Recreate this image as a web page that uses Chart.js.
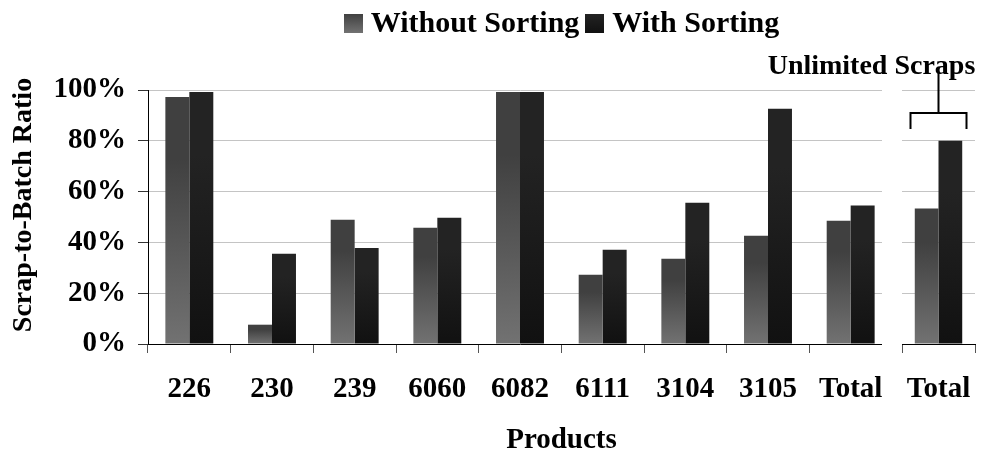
<!DOCTYPE html>
<html>
<head>
<meta charset="utf-8">
<script src="https://cdn.jsdelivr.net/npm/chart.js@4/dist/chart.umd.min.js"></script>
<style>
  body { margin: 0; background: #fff; }
  #wrap { position: relative; width: 982px; height: 451px; font-family: "Liberation Serif", "Times New Roman", serif; font-weight: bold; color: #000; }
  #main { position: absolute; left: 0; top: 0; }
  #side { position: absolute; left: 895px; top: 0; }
  #legend { position: absolute; left: 148px; width: 827px; top: 6px; text-align: center; font-size: 30px; line-height: 32px; white-space: nowrap; }
  #legend span.box { display: inline-block; width: 19px; height: 19px; vertical-align: -1px; margin-right: 8px; }
  #legend span.item { margin: 0 3px; }
  #unl { position: absolute; left: 760px; width: 223px; top: 49px; text-align: center; font-size: 28px; line-height: 32px; white-space: nowrap; }
  #prod { position: absolute; left: 148px; width: 827px; top: 422px; text-align: center; font-size: 29px; line-height: 32px; }
  #ytitle { position: absolute; left: 22px; top: 205px; width: 300px; margin-left: -150px; margin-top: -16px; text-align: center; font-size: 28px; line-height: 32px; white-space: nowrap; transform: rotate(-90deg); }
</style>
</head>
<body>
<div id="wrap">
  <canvas id="main" width="895" height="451"></canvas>
  <canvas id="side" width="87" height="451"></canvas>
  <div id="legend"></div>
  <div id="unl">Unlimited Scraps</div>
  <div id="prod">Products</div>
  <div id="ytitle">Scrap-to-Batch Ratio</div>
</div>
<script>
// --- DONNÉES ---
const products = ['226', '230', '239', '6060', '6082', '6111', '3104', '3105', 'Total'];
const withoutSorting = [97.2, 7.6, 48.9, 45.8, 99.2, 27.3, 33.6, 42.6, 48.5];
const withSorting = [99.2, 35.5, 37.8, 49.7, 99.2, 37.1, 55.6, 92.6, 54.5];
const unlimitedLabels = ['Total'];
const unlimitedWithout = [53.3];
const unlimitedWith = [80.0];
const yTickValues = [0, 20, 40, 60, 80, 100];
const seriesNames = ['Without Sorting', 'With Sorting'];

const GRAY = ['#404040', '#727272'];
const BLACK = ['#232323', '#111111'];
const FONT = '"Liberation Serif", "Times New Roman", serif';

// dégradé vertical par barre (haut foncé -> bas)
function barGrad(cols) {
    return (c) => {
        const chart = c.chart;
        const y = chart.scales && chart.scales.y;
        if (c.type !== 'data' || !y || !c.parsed) return cols[0];
        const top = y.getPixelForValue(c.parsed.y);
        const bot = y.getPixelForValue(0);
        if (!isFinite(top) || !isFinite(bot) || bot - top < 1) return cols[0];
        const g = chart.ctx.createLinearGradient(0, top, 0, bot);
        g.addColorStop(0, cols[0]);
        g.addColorStop(0.25, cols[0]);
        g.addColorStop(1, cols[1]);
        return g;
    };
}

// --- LÉGENDE ---
const legend = document.getElementById('legend');
[GRAY, BLACK].forEach((cols, k) => {
    const item = document.createElement('span');
    item.className = 'item';
    item.innerHTML = `<span class="box" style="background:linear-gradient(${cols[0]},${cols[1]})"></span>${seriesNames[k]}`;
    legend.appendChild(item);
});

const tickFont = { family: FONT, size: 29, weight: 'bold' };

// axe X : hauteur fixe, pas de marge latérale pour les libellés
function fitX(s) {
    s.height = 107;
    s.paddingLeft = 0;
    s.paddingRight = 0;
}

// la grille et l'axe s'arrêtent un peu avant le bord droit
const trimRight = {
    id: 'trimRight',
    beforeDatasetsDraw(chart) {
        const { ctx, chartArea } = chart;
        ctx.save();
        ctx.fillStyle = '#fff';
        ctx.fillRect(chartArea.right - 10, chartArea.top - 2, 20, chartArea.bottom - chartArea.top + 14);
        ctx.restore();
    }
};

// --- GRAPHIQUE PRINCIPAL ---
new Chart(document.getElementById('main'), {
    type: 'bar',
    data: {
        labels: products,
        datasets: [
            { label: seriesNames[0], data: withoutSorting, backgroundColor: barGrad(GRAY) },
            { label: seriesNames[1], data: withSorting, backgroundColor: barGrad(BLACK) }
        ]
    },
    plugins: [trimRight],
    options: {
        responsive: false,
        animation: false,
        layout: { padding: { top: 90, right: 3, left: 0, bottom: 0 } },
        datasets: { bar: { categoryPercentage: 0.58, barPercentage: 1.0 } },
        plugins: { legend: { display: false }, tooltip: { enabled: false } },
        scales: {
            x: {
                grid: { offset: true, drawOnChartArea: false, tickLength: 9, color: '#555' },
                border: { color: '#000', width: 1 },
                ticks: { font: tickFont, color: '#000', padding: 19, maxRotation: 0, autoSkip: false },
                afterFit: fitX
            },
            y: {
                min: 0, max: 100,
                afterBuildTicks: (s) => { s.ticks = yTickValues.map(v => ({ value: v })); },
                grid: { color: '#c4c4c4', tickColor: '#333', tickLength: 10 },
                border: { color: '#000', width: 1 },
                ticks: { font: tickFont, color: '#000', padding: 12, callback: v => v + '%' },
                afterFit: (s) => { s.width = 148; }
            }
        }
    }
});

// --- PANNEAU « UNLIMITED SCRAPS » ---
const bracket = {
    id: 'bracket',
    afterDraw(chart) {
        const { ctx, chartArea } = chart;
        const cx = chart.scales.x.getPixelForValue(0);
        const t = chartArea.top;
        ctx.save();
        ctx.strokeStyle = '#000';
        ctx.lineWidth = 2;
        ctx.beginPath();
        ctx.moveTo(cx, t - 17);
        ctx.lineTo(cx, t + 23);
        ctx.moveTo(cx - 28, t + 39);
        ctx.lineTo(cx - 28, t + 23);
        ctx.lineTo(cx + 28, t + 23);
        ctx.lineTo(cx + 28, t + 39);
        ctx.stroke();
        ctx.restore();
    }
};

new Chart(document.getElementById('side'), {
    type: 'bar',
    data: {
        labels: unlimitedLabels,
        datasets: [
            { label: seriesNames[0], data: unlimitedWithout, backgroundColor: barGrad(GRAY) },
            { label: seriesNames[1], data: unlimitedWith, backgroundColor: barGrad(BLACK) }
        ]
    },
    plugins: [bracket],
    options: {
        responsive: false,
        animation: false,
        layout: { padding: { top: 90, right: 7, left: 0, bottom: 0 } },
        datasets: { bar: { categoryPercentage: 0.65, barPercentage: 1.0 } },
        plugins: { legend: { display: false }, tooltip: { enabled: false } },
        scales: {
            x: {
                grid: { offset: true, drawOnChartArea: false, tickLength: 9, color: '#555' },
                border: { color: '#000', width: 1 },
                ticks: { font: tickFont, color: '#000', padding: 19, maxRotation: 0 },
                afterFit: fitX
            },
            y: {
                min: 0, max: 100,
                afterBuildTicks: (s) => { s.ticks = yTickValues.map(v => ({ value: v })); },
                grid: { color: '#c4c4c4', drawTicks: false },
                border: { display: false },
                ticks: { display: false },
                afterFit: (s) => { s.width = 7; }
            }
        }
    }
});
</script>
</body>
</html>
